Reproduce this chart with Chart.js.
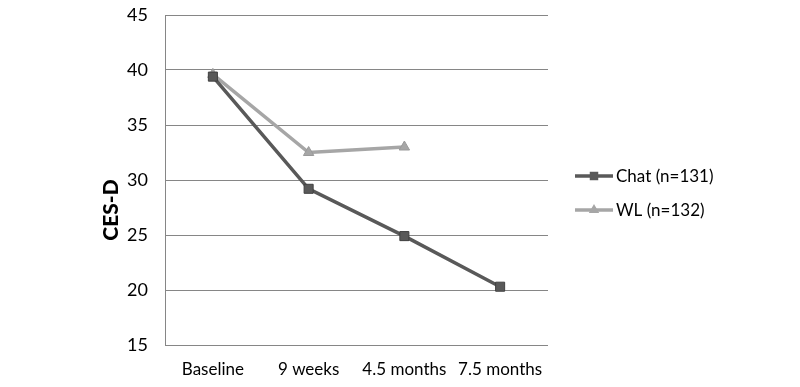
<!DOCTYPE html>
<html><head><meta charset="utf-8">
<script src="https://cdn.jsdelivr.net/npm/chart.js@4.4.0/dist/chart.umd.min.js"></script>
<style>html,body{margin:0;padding:0;background:#fff}#wrap{width:800px;height:387px}</style>
</head><body><div id="wrap"><canvas id="c" width="800" height="387"></canvas></div>
<script>
const categories = ["Baseline", "9 weeks", "4.5 months", "7.5 months"];
const chatValues = [39.4, 29.2, 24.9, 20.3];
const wlValues = [39.6, 32.5, 33.0, null];
const seriesNames = ["Chat (n=131)", "WL (n=132)"];
const yTicks = [15, 20, 25, 30, 35, 40, 45];
const yTitle = "CES-D";

const FONT = "Lato";
const chatColor = "#595959", chatBorder = "#404040";
const wlColor = "#a6a6a6", wlBorder = "#9a9a9a";

const extras = {
  id: 'extras',
  afterDraw(chart) {
    const ctx = chart.ctx;
    ctx.save();
    ctx.font = "900 21px " + FONT;
    ctx.fillStyle = "#000";
    ctx.textAlign = "center"; ctx.textBaseline = "middle";
    ctx.translate(111, 210); ctx.rotate(-Math.PI / 2);
    ctx.fillText(yTitle, 0, 0);
    ctx.restore();
    const items = [
      {name: seriesNames[0], color: chatColor, border: chatBorder, style: 'rect', y: 176},
      {name: seriesNames[1], color: wlColor, border: wlBorder, style: 'triangle', y: 210}
    ];
    items.forEach(it => {
      ctx.save();
      ctx.strokeStyle = it.color; ctx.lineWidth = 3.5;
      ctx.beginPath(); ctx.moveTo(575, it.y); ctx.lineTo(613, it.y); ctx.stroke();
      ctx.fillStyle = it.color; ctx.strokeStyle = it.border; ctx.lineWidth = 1;
      Chart.helpers.drawPoint(ctx, {pointStyle: it.style, radius: 6, rotation: 0}, 594, it.y);
      ctx.fillStyle = "#000";
      ctx.font = "17px " + FONT;
      ctx.textAlign = "left"; ctx.textBaseline = "middle";
      ctx.fillText(it.name, 616, it.y + 1);
      ctx.restore();
    });
  }
};

new Chart(document.getElementById('c'), {
  type: 'line',
  data: {
    labels: categories,
    datasets: [
      {label: seriesNames[0], data: chatValues, borderColor: chatColor, backgroundColor: chatColor,
       pointBorderColor: chatBorder, pointBorderWidth: 1, borderWidth: 3.5, pointStyle: 'rect', pointRadius: 6.4, tension: 0},
      {label: seriesNames[1], data: wlValues, borderColor: wlColor, backgroundColor: wlColor,
       pointBorderColor: wlBorder, pointBorderWidth: 1, borderWidth: 3.5, pointStyle: 'triangle', pointRadius: 6, tension: 0}
    ]
  },
  options: {
    responsive: false, animation: false, devicePixelRatio: 1,
    layout: {padding: {left: 0, right: 252, top: 15, bottom: 0}},
    plugins: {legend: {display: false}, tooltip: {enabled: false}},
    scales: {
      x: {
        offset: true,
        grid: {display: false},
        border: {display: false},
        ticks: {color: "#000", font: {family: FONT, size: 17}, padding: 6, maxRotation: 0, autoSkip: false},
        afterFit(s) { s.height = 42; s.paddingLeft = 0; s.paddingRight = 0; }
      },
      y: {
        min: 15, max: 45,
        afterBuildTicks(s) { s.ticks = yTicks.map(v => ({value: v})); },
        grid: {color: "#868686", lineWidth: 1, drawTicks: false},
        border: {display: true, color: "#868686", width: 1},
        ticks: {color: "#000", font: {family: FONT, size: 18}, padding: 17},
        afterFit(s) { s.width = 165; s.paddingTop = 0; s.paddingBottom = 0; }
      }
    }
  },
  plugins: [extras]
});
</script></body></html>
